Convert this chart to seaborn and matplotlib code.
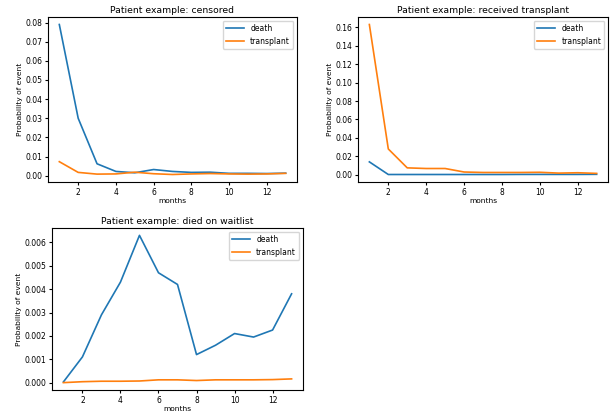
import matplotlib
matplotlib.use("Agg")
import matplotlib.pyplot as plt
import seaborn as sns
import pandas as pd

months = list(range(1, 14))

censored_death = [0.079, 0.030, 0.0062, 0.0022, 0.0015, 0.0032, 0.0022, 0.0017, 0.0018, 0.0012, 0.0012, 0.0011, 0.0013]
censored_transplant = [0.0073, 0.0017, 0.0008, 0.0009, 0.0018, 0.0010, 0.0006, 0.0009, 0.0011, 0.0009, 0.0008, 0.0009, 0.0012]

received_death = [0.014, 0.0003, 0.0003, 0.0003, 0.0003, 0.0003, 0.0003, 0.0003, 0.0004, 0.0004, 0.0004, 0.0004, 0.0005]
received_transplant = [0.163, 0.028, 0.0075, 0.0068, 0.0068, 0.0030, 0.0025, 0.0025, 0.0025, 0.0027, 0.0018, 0.0022, 0.0015]

died_death = [0.00003, 0.0011, 0.0029, 0.0043, 0.0063, 0.0047, 0.0042, 0.0012, 0.0016, 0.0021, 0.00195, 0.00225, 0.0038]
died_transplant = [0.0, 0.00004, 0.00006, 0.00006, 0.00007, 0.00012, 0.00012, 0.00009, 0.00012, 0.00012, 0.00012, 0.00013, 0.00016]

panels = [
    ("Patient example: censored", censored_death, censored_transplant),
    ("Patient example: received transplant", received_death, received_transplant),
    ("Patient example: died on waitlist", died_death, died_transplant),
]

fig = plt.figure(figsize=(6.13, 4.12), dpi=100)
rects = [
    [48/613, 1 - 182/412, 249/613, 165/412],
    [358/613, 1 - 182/412, 250/613, 165/412],
    [52/613, 1 - 390/412, 251/613, 162/412],
]
colors = ["#1f77b4", "#ff7f0e"]
for (title, d, t), r in zip(panels, rects):
    ax = fig.add_axes(r)
    df = pd.DataFrame({"months": months * 2,
                       "p": d + t,
                       "event": ["death"] * 13 + ["transplant"] * 13})
    sns.lineplot(data=df, x="months", y="p", hue="event", palette=colors, ax=ax, linewidth=1.2)
    ax.set_title(title, fontsize=6.7, pad=3)
    ax.set_xlabel("months", fontsize=5.4, labelpad=1)
    ax.set_ylabel("Probability of event", fontsize=5.4, labelpad=2)
    ax.tick_params(labelsize=5.5, length=2.5, pad=1.5)
    ax.set_xticks([2, 4, 6, 8, 10, 12])
    leg = ax.legend(fontsize=5.5, loc="upper right", handlelength=2.4)
    leg.set_title(None)

fig.savefig("out.png", dpi=100)
